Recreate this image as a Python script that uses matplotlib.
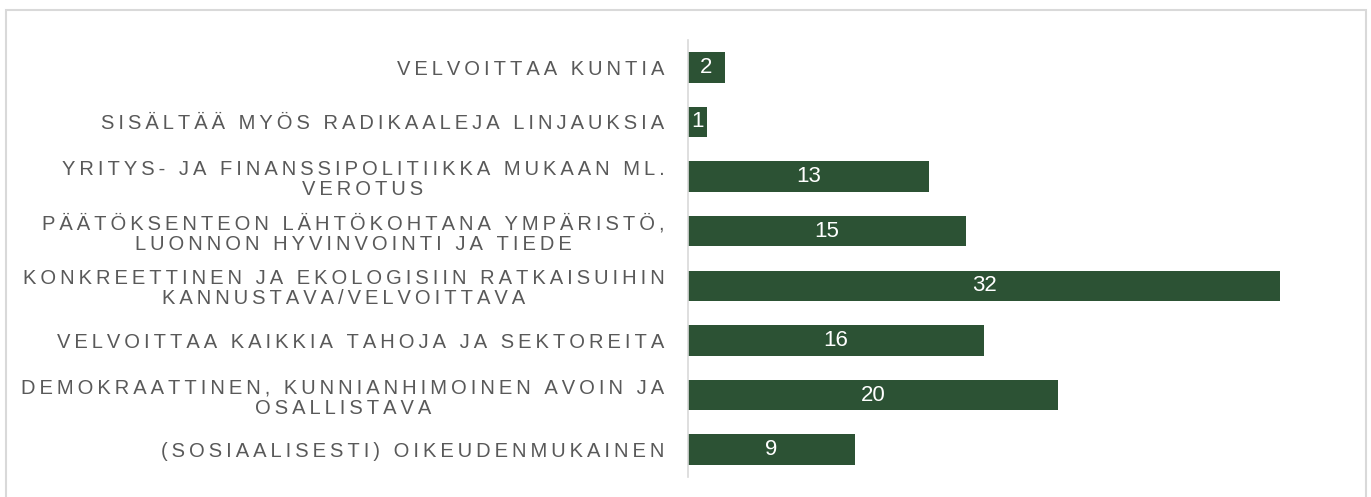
import matplotlib.pyplot as plt
from matplotlib.patches import Rectangle

luokat = ['VELVOITTAA KUNTIA',
          'SISÄLTÄÄ MYÖS RADIKAALEJA LINJAUKSIA',
          'YRITYS- JA FINANSSIPOLITIIKKA MUKAAN ML.\nVEROTUS',
          'PÄÄTÖKSENTEON LÄHTÖKOHTANA YMPÄRISTÖ,\nLUONNON HYVINVOINTI JA TIEDE',
          'KONKREETTINEN JA EKOLOGISIIN RATKAISUIHIN\nKANNUSTAVA/VELVOITTAVA',
          'VELVOITTAA KAIKKIA TAHOJA JA SEKTOREITA',
          'DEMOKRAATTINEN, KUNNIANHIMOINEN AVOIN JA\nOSALLISTAVA',
          '(SOSIAALISESTI) OIKEUDENMUKAINEN']
arvot = [2, 1, 13, 15, 32, 16, 20, 9]

vari = '#2c5234'
harmaa = '#595959'
fontit = ['Liberation Sans', 'DejaVu Sans']


def harvenna(s):
    # kirjainvali: thin space merkkien valiin
    return '\n'.join('\u2009'.join(rivi) for rivi in s.split('\n'))


fig = plt.figure(figsize=(13.71, 4.97), dpi=100)
fig.patches.append(Rectangle((6 / 1371, -0.01), 1360 / 1371, 1 - 10 / 497 + 0.01,
                             transform=fig.transFigure, fill=False,
                             edgecolor='#d9d9d9', linewidth=1.5))
ax = fig.add_axes([688 / 1371, 20 / 497, 666 / 1371, 437 / 497])

y = list(range(len(luokat)))
ax.barh(y, arvot, height=0.56, color=vari)
ax.set_ylim(len(luokat) - 0.5, -0.5)
ax.set_xlim(0, 36)

for i, v in enumerate(arvot):
    ax.text(v / 2, i, str(v), ha='center', va='center', color='white',
            fontsize=16, family=fontit)

ax.set_yticks(y)
ax.set_yticklabels([harvenna(l) for l in luokat], multialignment='center',
                   color=harmaa, fontsize=14.5, family=fontit, linespacing=1.1)
ax.tick_params(axis='y', length=0, pad=17)
ax.set_xticks([])
for s in ['top', 'right', 'bottom']:
    ax.spines[s].set_visible(False)
ax.spines['left'].set_color('#d9d9d9')
ax.spines['left'].set_linewidth(1.2)

fig.savefig('out.png', dpi=100)
